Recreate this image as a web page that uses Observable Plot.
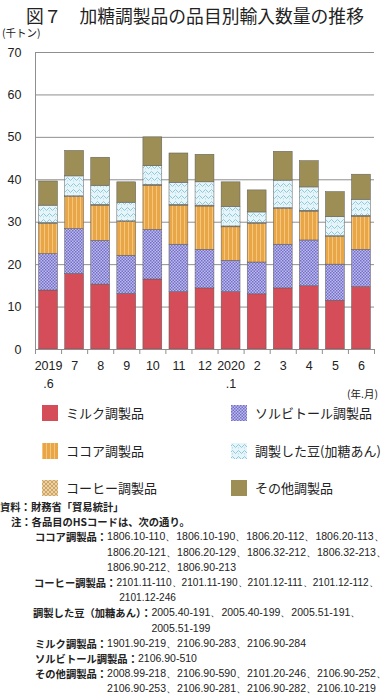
<!DOCTYPE html>
<html><head><meta charset="utf-8">
<script src="https://cdn.jsdelivr.net/npm/d3@7"></script>
<script src="https://cdn.jsdelivr.net/npm/@observablehq/plot@0.6"></script>
<style>
body{margin:0;width:390px;height:698px;position:relative;background:#fff;font-family:"Noto Sans CJK JP",sans-serif;color:#222;overflow:hidden}
#title{position:absolute;top:2px;left:0;width:390px;text-align:center;font-size:17.8px;line-height:26px;white-space:nowrap}
#unit{position:absolute;top:26px;left:2px;font-size:10.5px;line-height:14px}
#chart{position:absolute;top:26px;left:0}
#ym{position:absolute;top:387px;left:347px;font-size:10.5px;line-height:14px;white-space:nowrap}
.lg{position:absolute;display:flex;align-items:center;font-size:13px;line-height:18px;white-space:nowrap}
.lg svg{margin-right:8px}
#notes{position:absolute;top:499px;left:0;font-size:10.3px;line-height:15.2px;font-weight:bold;white-space:nowrap}
.ent{display:flex;padding-left:35px}
.num{font-family:"Liberation Sans",Arial,sans-serif;font-size:10.5px;line-height:15.2px;font-weight:normal}
.num.s{font-size:10.1px}
</style></head><body>
<div id="title">図７　加糖調製品の品目別輸入数量の推移</div>
<div id="unit">(千トン)</div>
<div id="chart"></div>
<div id="ym">(年.月)</div>
<div id="legend"></div>
<div id="notes">
<div>資料：財務省「貿易統計」</div>
<div style="padding-left:11px">注：各品目のHSコードは、次の通り。</div>
<div class="ent"><span>ココア調製品：</span><span class="num">1806.10-110、1806.10-190、1806.20-112、1806.20-113、<br>1806.20-121、1806.20-129、1806.32-212、1806.32-213、<br>1806.90-212、1806.90-213</span></div>
<div class="ent" style="padding-left:34px"><span>コーヒー調製品：</span><span class="num s">2101.11-110、2101.11-190、2101.12-111、2101.12-112、<br>&nbsp;2101.12-246</span></div>
<div class="ent" style="padding-left:33px"><span>調製した豆（加糖あん）：</span><span class="num">2005.40-191、2005.40-199、2005.51-191、<br>2005.51-199</span></div>
<div class="ent"><span>ミルク調製品：</span><span class="num">1901.90-219、2106.90-283、2106.90-284</span></div>
<div class="ent"><span>ソルビトール調製品：</span><span class="num">2106.90-510</span></div>
<div class="ent"><span>その他調製品：</span><span class="num">2008.99-218、2106.90-590、2101.20-246、2106.90-252、<br>2106.90-253、2106.90-281、2106.90-282、2106.10-219</span></div>
</div>
<script>
const months = ["2019\n.6","7","8","9","10","11","12","2020\n.1","2","3","4","5","6"];
const items = ["ミルク調製品","ソルビトール調製品","ココア調製品","コーヒー調製品","調製した豆(加糖あん)","その他調製品"];
const milk     = [13.9,17.8,15.3,13.1,16.5,13.5,14.4,13.5,13.0,14.4,14.9,11.5,14.7];
const sorbitol = [ 8.6,10.6,10.3, 9.0,11.7,11.2, 9.1, 7.4, 7.5,10.3,10.8, 8.5, 8.8];
const cocoa    = [ 7.1, 7.5, 8.3, 7.9,10.4, 9.2,10.2, 7.9, 9.1, 8.4, 6.8, 6.5, 7.8];
const coffee   = [ 0.2, 0.2, 0.2, 0.2, 0.2, 0.2, 0.2, 0.2, 0.2, 0.2, 0.2, 0.2, 0.2];
const beans    = [ 4.1, 4.7, 4.5, 4.4, 4.4, 5.2, 5.5, 4.6, 2.5, 6.5, 5.5, 4.5, 3.8];
const other    = [ 5.7, 6.0, 6.6, 4.8, 6.8, 6.9, 6.5, 5.8, 5.2, 6.8, 6.2, 5.9, 5.9];
const yTicks = [0,10,20,30,40,50,60,70];
const legendOrder = ["ミルク調製品","ソルビトール調製品","ココア調製品","調製した豆(加糖あん)","コーヒー調製品","その他調製品"];

const series = [milk, sorbitol, cocoa, coffee, beans, other];
const patterns = ["url(#pMilk)","url(#pSorb)","url(#pCocoa)","url(#pCoffee)","url(#pBeans)","url(#pOther)"];
const rows = [];
months.forEach((m, i) => items.forEach((it, k) => rows.push({i, month: m, item: it, value: series[k][i]})));

const chart = Plot.plot({
  width: 390, height: 378,
  marginTop: 26, marginBottom: 55, marginLeft: 35, marginRight: 16,
  style: {fontFamily: "'Liberation Sans', Arial, sans-serif", fontSize: "12.5px", color: "#222", background: "transparent"},
  x: {domain: [0, months.length], axis: null},
  y: {domain: [0, 70], axis: null},
  color: {domain: items, range: patterns},
  marks: [
    Plot.gridY(yTicks.slice(1), {stroke: "#8f8f8f", strokeOpacity: 1, strokeWidth: 1}),
    Plot.rectY(rows, {x1: "i", x2: d => d.i + 1, y: "value", fill: "item", insetLeft: 3.6, insetRight: 3.6, stroke: "#5a5a5a", strokeWidth: 0.5}),
    Plot.ruleY([0], {stroke: "#8f8f8f"}),
    Plot.ruleX([0], {stroke: "#8f8f8f"}),
    Plot.axisY({ticks: yTicks, tickSize: 0, tickPadding: 14, tickFormat: d => String(d), fill: "#222", label: null}),
    Plot.axisX({ticks: d3.range(months.length + 1), tickSize: 5, tickFormat: () => "", stroke: "#8f8f8f", label: null}),
    Plot.text(months, {x: (d, i) => i + 0.5, frameAnchor: "bottom", lineAnchor: "top", dy: 8, lineHeight: 1.44, text: d => d, fill: "#222"})
  ]
});
document.getElementById("chart").appendChild(chart);

const defs = `
<pattern id="pMilk" width="4" height="4" patternUnits="userSpaceOnUse"><rect width="4" height="4" fill="#d44d59"/></pattern>
<pattern id="pSorb" width="3" height="3" patternUnits="userSpaceOnUse"><rect width="3" height="3" fill="#bdbbee"/><rect width="1.5" height="1.5" fill="#7470c8"/><rect x="1.5" y="1.5" width="1.5" height="1.5" fill="#7470c8"/></pattern>
<pattern id="pCocoa" width="4" height="4" patternUnits="userSpaceOnUse"><rect width="4" height="4" fill="#e9a647"/><rect x="0" width="1" height="4" fill="#f3c57f"/></pattern>
<pattern id="pCoffee" width="4" height="4" patternUnits="userSpaceOnUse"><rect width="4" height="4" fill="#ecd2a4"/><path d="M0,0L4,4M4,0L0,4" stroke="#c89a5c" stroke-width="0.8"/></pattern>
<pattern id="pBeans" width="6" height="6" patternUnits="userSpaceOnUse"><rect width="6" height="6" fill="#e6f5f9"/><path d="M0,3 Q1.5,0 3,3 T6,3" fill="none" stroke="#86c4d6" stroke-width="0.9"/><circle cx="1.5" cy="4.8" r="0.6" fill="#a9d6e3"/></pattern>
<pattern id="pOther" width="4" height="4" patternUnits="userSpaceOnUse"><rect width="4" height="4" fill="#9c8e54"/></pattern>`;
d3.select(chart).insert("defs", ":first-child").html(defs);

// legend
const lg = document.getElementById("legend");
const rowsY = [413, 451, 488];
legendOrder.forEach((name, j) => {
  const col = j % 2, r = Math.floor(j / 2);
  const k = items.indexOf(name);
  const div = document.createElement("div");
  div.className = "lg";
  div.style.left = (col ? 231 : 42) + "px";
  div.style.top = (rowsY[r] - 9) + "px";
  div.innerHTML = `<svg width="16" height="16"><rect width="16" height="16" fill="${patterns[k]}"/></svg><span>${name}</span>`;
  lg.appendChild(div);
});
</script>
</body></html>
